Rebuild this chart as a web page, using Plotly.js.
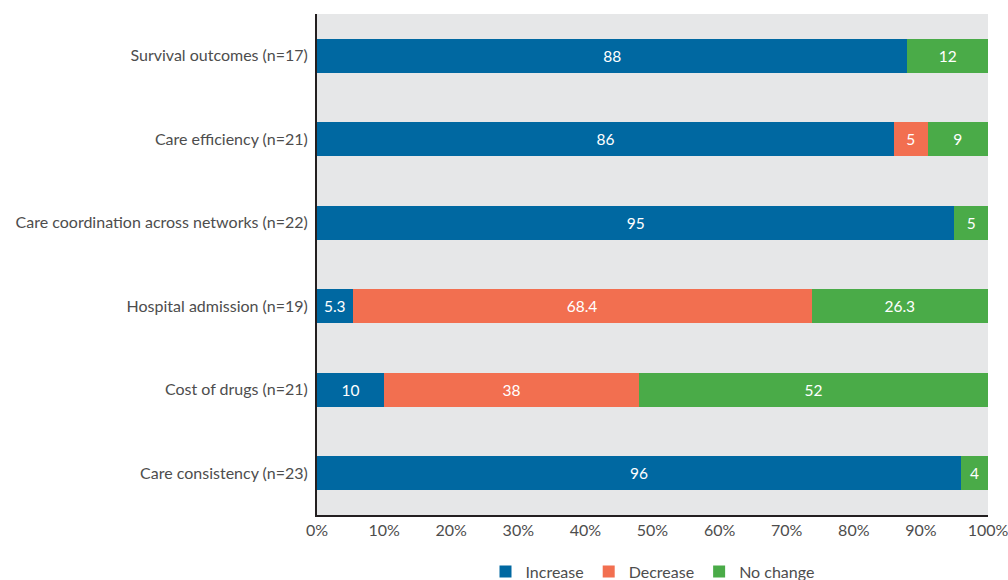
<!DOCTYPE html>
<html>
<head>
<meta charset="utf-8">
<script src="https://cdn.plot.ly/plotly-3.0.1.min.js"></script>
<style>html,body{margin:0;padding:0;background:#fff;}#chart{width:1008px;height:580px;}</style>
</head>
<body>
<div id="chart"></div>
<script>
const categories = [
  "Survival outcomes (n=17)",
  "Care efficiency (n=21)",
  "Care coordination across networks (n=22)",
  "Hospital admission (n=19)",
  "Cost of drugs (n=21)",
  "Care consistency (n=23)"
];
const increaseVals = [88, 86, 95, 5.3, 10, 96];
const decreaseVals = [0, 5, 0, 68.4, 38, 0];
const noChangeVals = [12, 9, 5, 26.3, 52, 4];
const tickVals = [0, 10, 20, 30, 40, 50, 60, 70, 80, 90, 100];
const tickLabels = ["0%", "10%", "20%", "30%", "40%", "50%", "60%", "70%", "80%", "90%", "100%"];

const FONT = "Lato, 'Open Sans', sans-serif";
function mk(name, vals, color) {
  return {
    type: "bar",
    orientation: "h",
    name: name,
    x: vals,
    y: categories,
    marker: {color: color, line: {width: 0}},
    text: vals.map(v => v ? String(v) : ""),
    textposition: "inside",
    insidetextanchor: "middle",
    constraintext: "none",
    textfont: {color: "#ffffff", size: 15.5, family: FONT},
    hoverinfo: "x+y+name"
  };
}
const data = [
  mk("Increase", increaseVals, "#0068a1"),
  mk("Decrease", decreaseVals, "#f26f50"),
  mk("No change", noChangeVals, "#4aab48")
];
const layout = {
  width: 1008, height: 580,
  barmode: "stack",
  bargap: 0.59,
  margin: {l: 317, r: 20, t: 14, b: 65, autoexpand: false},
  paper_bgcolor: "#ffffff",
  plot_bgcolor: "#e6e7e8",
  font: {family: FONT, color: "#4d4d4d", size: 16},
  xaxis: {
    range: [0, 100],
    tickvals: tickVals,
    ticktext: tickLabels,
    ticklabeloverflow: "allow",
    showgrid: false,
    zeroline: false,
    showline: true,
    linecolor: "#231f20",
    linewidth: 2,
    ticks: "",
    tickfont: {size: 16, color: "#4d4d4d"},
    fixedrange: true
  },
  yaxis: {
    autorange: "reversed",
    showgrid: false,
    zeroline: false,
    showline: true,
    linecolor: "#231f20",
    linewidth: 2,
    ticks: "",
    ticklabelstandoff: 4,
    tickfont: {size: 16, color: "#4d4d4d"},
    fixedrange: true
  },
  showlegend: true,
  legend: {
    orientation: "h",
    x: 0.5, xanchor: "center",
    yref: "container",
    y: 0.044, yanchor: "top",
    font: {size: 16, color: "#4d4d4d"},
    traceorder: "normal",
    itemwidth: 30
  }
};
Plotly.newPlot("chart", data, layout, {displayModeBar: false, staticPlot: true});
</script>
</body>
</html>
